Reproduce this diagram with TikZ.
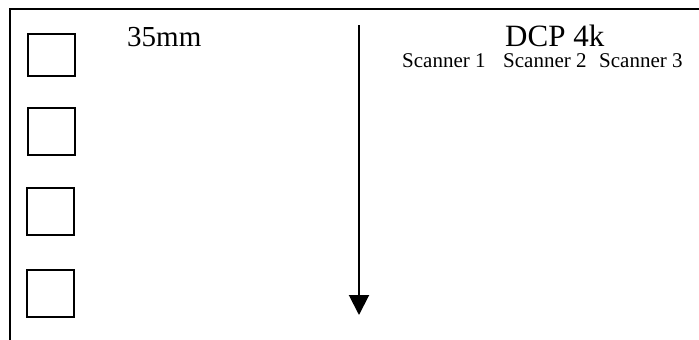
\documentclass[tikz,border=0pt]{standalone}
\usepackage{fontspec}
\setmainfont{Liberation Serif}
\usetikzlibrary{arrows.meta}
\tikzset{
  frame/.style={draw, line width=2pt, minimum width=47pt, minimum height=47pt, inner sep=0pt},
  bigtext/.style={anchor=base west, inner sep=0pt, font=\fontsize{29}{34}\selectfont},
  smalltext/.style={anchor=base west, inner sep=0pt, font=\fontsize{21}{25}\selectfont}
}
\begin{document}
\begin{tikzpicture}[x=1pt,y=-1pt]
      \useasboundingbox (0,0) rectangle (699,340);
      \draw[line width=1.6pt] (699,9) -- (10,9) -- (10,340);
      \draw
        (51.5,55) node[frame, minimum height=42pt] (f1){}
        (51.5,131.5) node[frame] (f2){}
        (50.5,211.5) node[frame] (f3){}
        (50.5,293.5) node[frame] (f4){};
      \draw
        (127,46) node[bigtext] (mm){35mm}
        (505,46) node[bigtext, font=\fontsize{31}{36}\selectfont] (dcp){DCP 4k}
        (402,67) node[smalltext] (s1){Scanner 1}
        (503,67) node[smalltext] (s2){Scanner 2}
        (599,67) node[smalltext] (s3){Scanner 3};
      \coordinate (top) at (359,25);
      \coordinate (tip) at (359,315);
      \begin{scope}[-{Triangle[width=20pt,length=20pt]}]
        \draw[line width=2pt] (top) to (tip);
      \end{scope}
    \end{tikzpicture}
\end{document}
